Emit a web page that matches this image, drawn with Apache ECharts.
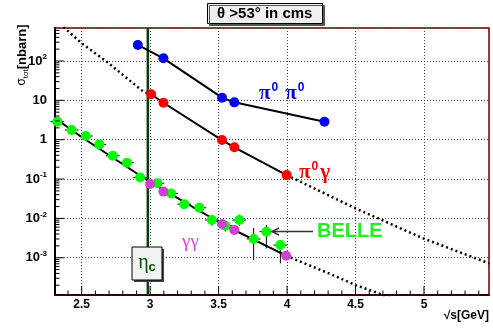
<!DOCTYPE html>
<html><head><meta charset="utf-8">
<script src="https://cdn.jsdelivr.net/npm/echarts@6/dist/echarts.min.js"></script>
<style>html,body{margin:0;padding:0;background:#fff;}#c{width:493px;height:329px;}</style>
</head><body><div id="c"></div>
<script>
// ---- axis ranges & tick labels ----
const xMin = 2.305, xMax = 5.475;
const yMin = 1.13e-4, yMax = 690;
const xTickLabels = [2.5, 3, 3.5, 4, 4.5, 5];
const yTickExps = [-3, -2, -1, 0, 1, 2];
const yTickTexts = ['10{s|-3}', '10{s|-2}', '10{s|-1}', '1', '10', '10{s|2}'];
const etaCMass = 2.983;

// ---- pi0 pi0 ----
const pi0pi0X = [2.91, 3.097, 3.525, 3.615, 4.273];
const pi0pi0Y = [256, 117, 11.7, 8.9, 2.87];
// ---- pi0 gamma ----
const pi0gX = [3.007, 3.097, 3.525, 3.615, 3.997];
const pi0gY = [14.3, 8.7, 0.98, 0.64, 0.126];
// ---- BELLE ----
const belleX = [2.322, 2.427, 2.53, 2.629, 2.727, 2.83, 2.927, 3.053, 3.154, 3.249, 3.359, 3.451, 3.549, 3.651, 3.756, 3.849, 3.951];
const belleY = [2.87, 1.77, 1.24, 0.76, 0.39, 0.26, 0.11, 0.078, 0.043, 0.023, 0.0186, 0.0091, 0.0065, 0.0091, 0.003, 0.0046, 0.0021];
const belleLo = [2.6, 1.6, 1.12, 0.69, 0.35, 0.235, 0.099, 0.07, 0.038, 0.02, 0.016, 0.0065, 0.0047, 0.0065, 0.00087, 0.00173, 0.00072];
const belleHi = [3.15, 1.95, 1.37, 0.84, 0.43, 0.29, 0.122, 0.087, 0.048, 0.026, 0.021, 0.012, 0.0088, 0.0125, 0.0057, 0.0068, 0.0028];
const belleHalfWidth = 0.05;
// ---- gamma gamma ----
const ggX = [3.0, 3.097, 3.525, 3.615, 3.993];
const ggY = [0.075, 0.048, 0.0072, 0.0051, 0.00112];
// ---- curves ----
const fitSolidX = [2.305, 2.512, 2.976, 3.525, 3.993];
const fitSolidY = [3.5, 1.09, 0.0944, 0.0072, 0.001125];
const fitDotX = [3.993, 4.317, 4.5, 4.67, 4.75];
const fitDotY = [0.001125, 3.85e-4, 2.02e-4, 1.245e-4, 0.95e-4];
const upperDotLX = [2.34, 2.5, 2.683, 2.951, 3.007];
const upperDotLY = [890, 282, 96, 16.6, 14.3];
const upperDotRX = [3.997, 4.5, 4.995, 5.475];
const upperDotRY = [0.126, 0.018, 0.0031, 0.00072];

const zip = (a, b) => a.map((v, i) => [v, b[i]]);
const FONT = 'Liberation Sans, Arial, sans-serif';
const SERIF = 'Liberation Serif, DejaVu Serif, serif';

// tick marks (axis decoration)
const tickData = [];
for (let k = -4; k <= 2; k++) {
  for (let m = 1; m <= 9; m++) {
    const v = m * Math.pow(10, k);
    if (v < yMin || v > yMax) continue;
    tickData.push([xMin, v, m === 1 ? 9 : 4.5, 0]);
  }
}
for (let i = 24; i <= 54; i++) {
  const v = i / 10;
  tickData.push([v, yMin, (i % 5 === 0) ? 9 : 4.5, 1]);
}

const chart = echarts.init(document.getElementById('c'), null, {renderer: 'canvas'});
const dotted = [2, 3];
chart.setOption({
  animation: false,
  backgroundColor: '#fff',
  title: {
    text: 'θ >53° in cms',
    left: 207, top: 3,
    padding: [2, 10, 2, 10],
    backgroundColor: '#f0f0f0',
    borderColor: '#000', borderWidth: 1,
    shadowColor: '#555', shadowBlur: 0, shadowOffsetX: 2, shadowOffsetY: 2,
    textStyle: {fontFamily: FONT, fontSize: 15, fontWeight: 'bold', color: '#000', lineHeight: 17}
  },
  grid: {left: 55, right: 4, top: 28, bottom: 34, show: true, borderColor: '#6a0000', borderWidth: 1.5},
  xAxis: {
    type: 'value', min: xMin, max: xMax, splitNumber: 6,
    axisLine: {show: true, onZero: false, lineStyle: {color: '#3a0000', width: 2}},
    axisTick: {show: false},
    axisLabel: {
      formatter: v => xTickLabels.some(t => Math.abs(t - v) < 1e-6) ? String(v) : '',
      color: '#000', fontWeight: 'bold', fontSize: 12, margin: 4, fontFamily: FONT
    },
    splitLine: {show: true, lineStyle: {type: [1, 2], color: '#444', width: 1}}
  },
  yAxis: {
    type: 'log', logBase: 10, min: yMin, max: yMax, splitNumber: 7,
    axisLine: {show: true, onZero: false, lineStyle: {color: '#000', width: 2}},
    axisTick: {show: false},
    axisLabel: {
      formatter: v => {
        const e = Math.log10(v);
        const r = Math.round(e);
        if (Math.abs(e - r) > 1e-6) return '';
        const idx = yTickExps.indexOf(r);
        return idx < 0 ? '' : yTickTexts[idx];
      },
      color: '#000', fontWeight: 'bold', fontSize: 13, margin: 8, fontFamily: FONT,
      rich: {s: {fontSize: 8, fontWeight: 'bold', fontFamily: FONT, verticalAlign: 'top', lineHeight: 16, color: '#000'}}
    },
    splitLine: {show: true, lineStyle: {type: [1, 2], color: '#444', width: 1}}
  },
  series: [
    {type: 'line', data: [[etaCMass, yMin], [etaCMass, yMax]], symbol: 'none',
     lineStyle: {color: '#0b3d0b', width: 2.5}, z: 2, silent: true},
    {type: 'line', data: zip(upperDotLX, upperDotLY), symbol: 'none',
     lineStyle: {color: '#000', width: 2.5, type: dotted}, z: 3},
    {type: 'line', data: zip(upperDotRX, upperDotRY), symbol: 'none',
     lineStyle: {color: '#000', width: 2.5, type: dotted}, z: 3},
    {type: 'line', data: zip(fitSolidX, fitSolidY), symbol: 'none',
     lineStyle: {color: '#000', width: 2}, z: 3},
    {type: 'line', data: zip(fitDotX, fitDotY), symbol: 'none',
     lineStyle: {color: '#000', width: 2.5, type: dotted}, z: 3},
    {type: 'line', data: zip(pi0pi0X, pi0pi0Y), symbol: 'circle', symbolSize: 10,
     itemStyle: {color: '#0000ff'}, lineStyle: {color: '#000', width: 2}, z: 4},
    {type: 'line', data: zip(pi0gX, pi0gY), symbol: 'circle', symbolSize: 10,
     itemStyle: {color: '#ff0000'}, lineStyle: {color: '#000', width: 2}, z: 4},
    {type: 'custom', z: 4, silent: true,
     data: belleX.map((x, i) => [x, belleY[i], belleLo[i], belleHi[i]]),
     dimensions: ['x', 'y', 'lo', 'hi'], encode: {x: 'x', y: 'y'},
     renderItem: (params, api) => {
       const x = api.value(0), y = api.value(1);
       const pl = api.coord([x, api.value(2)]);
       const ph = api.coord([x, api.value(3)]);
       const l = api.coord([x - belleHalfWidth, y]);
       const r = api.coord([x + belleHalfWidth, y]);
       const st = {stroke: '#000', lineWidth: 1};
       return {type: 'group', children: [
         {type: 'line', shape: {x1: pl[0], y1: pl[1], x2: ph[0], y2: ph[1]}, style: st},
         {type: 'line', shape: {x1: l[0], y1: l[1], x2: r[0], y2: r[1]}, style: st}
       ]};
     }},
    {type: 'scatter', data: zip(belleX, belleY), symbol: 'circle', symbolSize: 10,
     itemStyle: {color: '#00ff00', opacity: 1}, z: 5},
    {type: 'scatter', data: zip(ggX, ggY), symbol: 'circle', symbolSize: 10,
     itemStyle: {color: '#cc44cc', opacity: 1}, z: 6},
    {type: 'custom', z: 7, silent: true, clip: false,
     data: tickData, dimensions: ['x', 'y', 'len', 'dir'], encode: {x: 'x', y: 'y'},
     renderItem: (params, api) => {
       const p = api.coord([api.value(0), api.value(1)]);
       const len = api.value(2), dir = api.value(3);
       const shape = dir === 0
         ? {x1: p[0], y1: p[1], x2: p[0] + len, y2: p[1]}
         : {x1: p[0], y1: p[1], x2: p[0], y2: p[1] - len};
       return {type: 'line', shape, style: {stroke: '#000', lineWidth: 1}};
     }}
  ],
  graphic: [
    // y-axis title
    {type: 'text', x: 22, y: 55, rotation: Math.PI / 2, z: 10,
     style: {text: '{s|σ}{t|tot}{n|[nbarn]}', align: 'center', verticalAlign: 'middle',
       rich: {
         s: {fontFamily: FONT, fontSize: 12, fill: '#000', lineHeight: 16, verticalAlign: 'middle'},
         t: {fontFamily: FONT, fontSize: 8, fill: '#000', lineHeight: 16, verticalAlign: 'bottom'},
         n: {fontFamily: FONT, fontSize: 13, fontWeight: 'bold', fill: '#000', lineHeight: 16, verticalAlign: 'middle'}
       }}},
    // x-axis title
    {type: 'text', x: 489, y: 316, z: 10,
     style: {text: '√s[GeV]', align: 'right', verticalAlign: 'middle', fontFamily: FONT, fontSize: 12, fontWeight: 'bold', fill: '#000'}},
    // pi0 pi0 label
    {type: 'text', x: 259, y: 93, z: 10,
     style: {text: '{g|π}{s|0}{sp| }{g|π}{s|0}', align: 'left', verticalAlign: 'middle',
       rich: {
         g: {fontFamily: SERIF, fontSize: 21, fontWeight: 'bold', fill: '#0000ee', lineHeight: 22, verticalAlign: 'bottom'},
         s: {fontFamily: FONT, fontSize: 12, fontWeight: 'bold', fill: '#0000ee', lineHeight: 22, verticalAlign: 'top', padding: [0, 0, 0, 1]},
         sp: {fontSize: 12, width: 7}
       }}},
    // pi0 gamma label
    {type: 'text', x: 299, y: 172, z: 10,
     style: {text: '{g|π}{s|0}{g|γ}', align: 'left', verticalAlign: 'middle',
       rich: {
         g: {fontFamily: SERIF, fontSize: 21, fontWeight: 'bold', fill: '#ff0000', lineHeight: 22, verticalAlign: 'bottom'},
         s: {fontFamily: FONT, fontSize: 12, fontWeight: 'bold', fill: '#ff0000', lineHeight: 22, verticalAlign: 'top', padding: [0, 2, 0, 1]}
       }}},
    // gamma gamma label
    {type: 'text', x: 182, y: 242, z: 10,
     style: {text: 'γγ', align: 'left', verticalAlign: 'middle', fontFamily: SERIF, fontSize: 19, fill: '#dd44dd'}},
    // BELLE label
    {type: 'text', x: 317, y: 231, z: 10,
     style: {text: 'BELLE', align: 'left', verticalAlign: 'middle', fontFamily: FONT, fontSize: 20, fontWeight: 'bold', fill: '#22ee22'}},
    // arrow
    {type: 'line', z: 10, shape: {x1: 313, y1: 231.5, x2: 273, y2: 231.5}, style: {stroke: '#333', lineWidth: 1.5}},
    {type: 'polyline', z: 10, shape: {points: [[279, 228], [272, 231.5], [279, 235]]}, style: {stroke: '#333', lineWidth: 1.5, fill: null}},
    // eta_c box
    {type: 'rect', z: 10, shape: {x: 134, y: 249, width: 30, height: 33}, style: {fill: '#444'}},
    {type: 'rect', z: 11, shape: {x: 132, y: 247, width: 30, height: 33}, style: {fill: '#f2f2f2', stroke: '#000', lineWidth: 1}},
    {type: 'text', x: 147, y: 263, z: 12,
     style: {text: '{e|η}{c|c}', align: 'center', verticalAlign: 'middle',
       rich: {
         e: {fontFamily: SERIF, fontSize: 20, fill: '#0b4d0b', lineHeight: 22, verticalAlign: 'middle'},
         c: {fontFamily: FONT, fontSize: 13, fontWeight: 'bold', fill: '#0b4d0b', lineHeight: 22, verticalAlign: 'bottom'}
       }}}
  ]
});
</script>
</body></html>
